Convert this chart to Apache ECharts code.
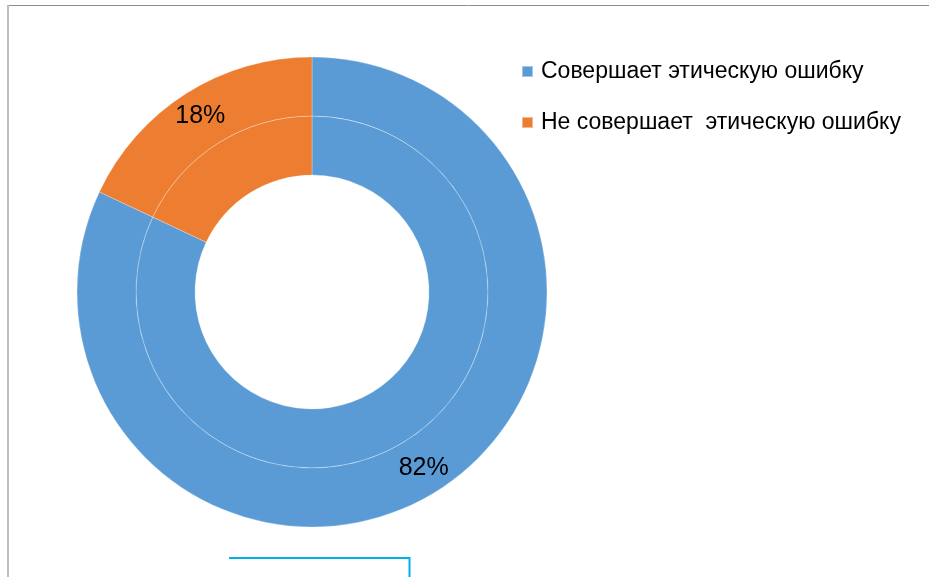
<!DOCTYPE html>
<html>
<head>
<meta charset="utf-8">
<script src="https://cdn.jsdelivr.net/npm/echarts@6/dist/echarts.min.js"></script>
<style>
  html, body { margin: 0; padding: 0; background: #fff; }
  #chart { width: 929px; height: 577px; }
</style>
</head>
<body>
<div id="chart"></div>
<script>
// categories and values (percent)
var categories = ['Совершает этическую ошибку', 'Не совершает  этическую ошибку']
var values = [82, 18]
var colors = ['#5B9BD5', '#ED7D31']

var chart = echarts.init(document.getElementById('chart'))

function ringData() {
  return categories.map(function(name, i) {
    return { name: name, value: values[i], itemStyle: { color: colors[i] } }
  })
}

chart.setOption({
  animation: false,
  legend: {
    orient: 'vertical',
    left: 516,
    top: 55,
    itemWidth: 11,
    itemHeight: 11,
    itemGap: 28,
    icon: 'rect',
    textStyle: {
      fontFamily: 'Liberation Sans, Arial, sans-serif',
      fontSize: 23,
      color: '#000',
      padding: [0, 0, 0, 3]
    },
    data: categories
  },
  graphic: [
    // chart area frame
    { type: 'line', shape: { x1: 8, y1: 5.5, x2: 929, y2: 5.5 }, style: { stroke: '#8c8c8c', lineWidth: 1 } },
    { type: 'line', shape: { x1: 8, y1: 5, x2: 8, y2: 577 }, style: { stroke: '#bdbdbd', lineWidth: 2 } },
    // blue stroke at bottom
    { type: 'polyline', shape: { points: [[229, 558], [409.5, 558], [409.5, 577]] }, style: { stroke: '#00B0F0', lineWidth: 2, fill: null } }
  ],
  series: [
    {
      name: 'inner',
      type: 'pie',
      center: [312, 292],
      radius: [117, 176],
      startAngle: 90,
      clockwise: true,
      silent: true,
      label: { show: false },
      labelLine: { show: false },
      itemStyle: { borderColor: 'rgba(255,255,255,0.45)', borderWidth: 0.6 },
      data: ringData()
    },
    {
      name: 'outer',
      type: 'pie',
      center: [312, 292],
      radius: [176, 235],
      startAngle: 90,
      clockwise: true,
      silent: true,
      label: {
        show: true,
        position: 'inside',
        formatter: '{c}%',
        fontFamily: 'Liberation Sans, Arial, sans-serif',
        fontSize: 25,
        color: '#000'
      },
      labelLine: { show: false },
      itemStyle: { borderColor: 'rgba(255,255,255,0.45)', borderWidth: 0.6 },
      data: ringData()
    }
  ]
})
</script>
</body>
</html>
